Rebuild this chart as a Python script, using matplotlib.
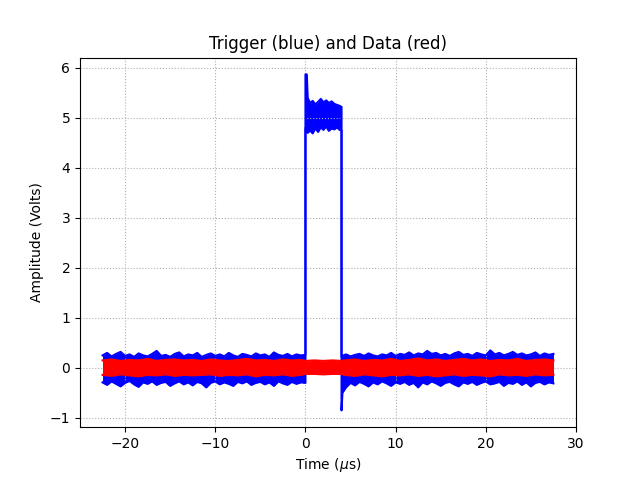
import numpy as np
import matplotlib
matplotlib.use("Agg")
import matplotlib.pyplot as plt

# trigger (blue) noise envelope (every 0.5 us)
pre_t = [-22.5, -22.0, -21.5, -21.0, -20.5, -20.0, -19.5, -19.0, -18.5, -18.0, -17.5, -17.0,
         -16.5, -16.0, -15.5, -15.0, -14.5, -14.0, -13.5, -13.0, -12.5, -12.0, -11.5, -11.0,
         -10.5, -10.0, -9.5, -9.0, -8.5, -8.0, -7.5, -7.0, -6.5, -6.0, -5.5, -5.0,
         -4.5, -4.0, -3.5, -3.0, -2.5, -2.0, -1.5, -1.0, -0.5, 0.0]
pre_hi = [0.25, 0.30, 0.23, 0.28, 0.32, 0.24, 0.27, 0.22, 0.29, 0.25, 0.23, 0.28,
          0.34, 0.24, 0.26, 0.22, 0.28, 0.31, 0.23, 0.27, 0.25, 0.30, 0.22, 0.26,
          0.29, 0.24, 0.27, 0.23, 0.30, 0.25, 0.22, 0.28, 0.26, 0.23, 0.29, 0.25,
          0.27, 0.22, 0.31, 0.26, 0.24, 0.28, 0.23, 0.27, 0.25, 0.26]
pre_lo = [-0.29, -0.34, -0.27, -0.32, -0.37, -0.30, -0.26, -0.33, -0.38, -0.29, -0.32, -0.27,
          -0.34, -0.30, -0.28, -0.36, -0.31, -0.27, -0.33, -0.29, -0.35, -0.28, -0.31, -0.39,
          -0.30, -0.27, -0.33, -0.29, -0.32, -0.36, -0.28, -0.31, -0.27, -0.34, -0.30, -0.28,
          -0.33, -0.29, -0.36, -0.27, -0.31, -0.34, -0.28, -0.32, -0.29, -0.30]

high_t = [0.0, 0.15, 0.25, 0.5, 0.8, 1.1, 1.4, 1.7, 2.0, 2.3, 2.6, 2.9, 3.2, 3.5, 3.8, 4.0]
high_hi = [5.87, 5.87, 5.40, 5.30, 5.34, 5.27, 5.32, 5.38, 5.31, 5.35, 5.30, 5.33, 5.28, 5.26, 5.24, 5.22]
high_lo = [4.80, 4.80, 4.70, 4.75, 4.69, 4.79, 4.72, 4.81, 4.76, 4.83, 4.74, 4.79, 4.77, 4.81, 4.76, 4.75]

post_t = [4.0, 4.1, 4.5, 5.0, 5.5, 6.0, 6.5, 7.0, 7.5, 8.0, 8.5, 9.0, 9.5, 10.0, 10.5, 11.0,
          11.5, 12.0, 12.5, 13.0, 13.5, 14.0, 14.5, 15.0, 15.5, 16.0, 16.5, 17.0, 17.5, 18.0,
          18.5, 19.0, 19.5, 20.0, 20.5, 21.0, 21.5, 22.0, 22.5, 23.0, 23.5, 24.0, 24.5, 25.0,
          25.5, 26.0, 26.5, 27.0, 27.5]
post_hi = [0.22, 0.24, 0.27, 0.23, 0.26, 0.28, 0.24, 0.29, 0.25, 0.23, 0.27, 0.25, 0.30, 0.24,
           0.28, 0.26, 0.31, 0.25, 0.29, 0.27, 0.34, 0.28, 0.30, 0.25, 0.28, 0.24, 0.29, 0.32,
           0.26, 0.28, 0.24, 0.30, 0.27, 0.25, 0.35, 0.27, 0.30, 0.25, 0.28, 0.32, 0.26, 0.29,
           0.25, 0.27, 0.31, 0.24, 0.29, 0.26, 0.28]
post_lo = [-0.85, -0.50, -0.39, -0.30, -0.35, -0.28, -0.32, -0.37, -0.29, -0.33, -0.27, -0.31,
           -0.36, -0.29, -0.32, -0.28, -0.34, -0.30, -0.39, -0.29, -0.33, -0.27, -0.31, -0.36,
           -0.30, -0.28, -0.33, -0.37, -0.29, -0.32, -0.28, -0.34, -0.30, -0.27, -0.33, -0.31,
           -0.28, -0.36, -0.30, -0.32, -0.27, -0.34, -0.29, -0.37, -0.30, -0.28, -0.33, -0.29, -0.31]

# data (red) noise envelope
red_t = [-22.5, -21.5, -20.5, -19.5, -18.5, -17.5, -16.5, -15.5, -14.5, -13.5, -12.5, -11.5,
         -10.5, -9.5, -8.5, -7.5, -6.5, -5.5, -4.5, -3.5, -2.5, -1.5, -0.5, 0.0,
         1.0, 2.0, 3.0, 4.0, 4.3, 5.5, 6.5, 7.5, 8.5, 9.5, 10.5, 11.5, 12.5, 13.5, 14.5,
         15.5, 16.5, 17.5, 18.5, 19.5, 20.5, 21.5, 22.5, 23.5, 24.5, 25.5, 26.5, 27.5]
red_hi = [0.15, 0.17, 0.14, 0.16, 0.15, 0.18, 0.14, 0.16, 0.17, 0.15, 0.16, 0.14,
          0.17, 0.15, 0.14, 0.16, 0.18, 0.15, 0.16, 0.14, 0.17, 0.15, 0.16, 0.14,
          0.15, 0.14, 0.15, 0.14, 0.15, 0.17, 0.14, 0.16, 0.15, 0.18, 0.14, 0.16, 0.19, 0.15,
          0.17, 0.14, 0.16, 0.18, 0.15, 0.17, 0.14, 0.16, 0.15, 0.18, 0.14, 0.16, 0.17, 0.15]
red_lo = [-0.14, -0.16, -0.13, -0.15, -0.17, -0.14, -0.15, -0.13, -0.16, -0.14, -0.15, -0.14,
          -0.13, -0.16, -0.14, -0.15, -0.13, -0.17, -0.14, -0.15, -0.13, -0.16, -0.14, -0.12,
          -0.12, -0.13, -0.12, -0.12, -0.14, -0.16, -0.13, -0.15, -0.17, -0.14, -0.15, -0.13,
          -0.16, -0.14, -0.17, -0.15, -0.13, -0.16, -0.14, -0.15, -0.17, -0.13, -0.15, -0.14,
          -0.16, -0.13, -0.15, -0.14]

trig_t = np.array(pre_t + high_t + post_t)
trig_hi = np.array(pre_hi + high_hi + post_hi)
trig_lo = np.array(pre_lo + high_lo + post_lo)

fig = plt.figure(figsize=(6.4, 4.8), dpi=100)
ax = fig.add_subplot(111)

ax.fill_between(trig_t, trig_lo, trig_hi, color="blue", lw=0)
ax.plot(trig_t, trig_hi, color="blue", lw=1.5)
ax.plot(trig_t, trig_lo, color="blue", lw=1.5)

ax.fill_between(red_t, red_lo, red_hi, color="red", lw=0, zorder=3)
ax.plot(red_t, red_hi, color="red", lw=1.5, zorder=3)
ax.plot(red_t, red_lo, color="red", lw=1.5, zorder=3)

ax.grid(True, linestyle=":", color="#b0b0b0")
ax.set_title("Trigger (blue) and Data (red)")
ax.set_xlabel(r"Time ($\mu$s)")
ax.set_ylabel("Amplitude (Volts)")

fig.savefig("out.png")
